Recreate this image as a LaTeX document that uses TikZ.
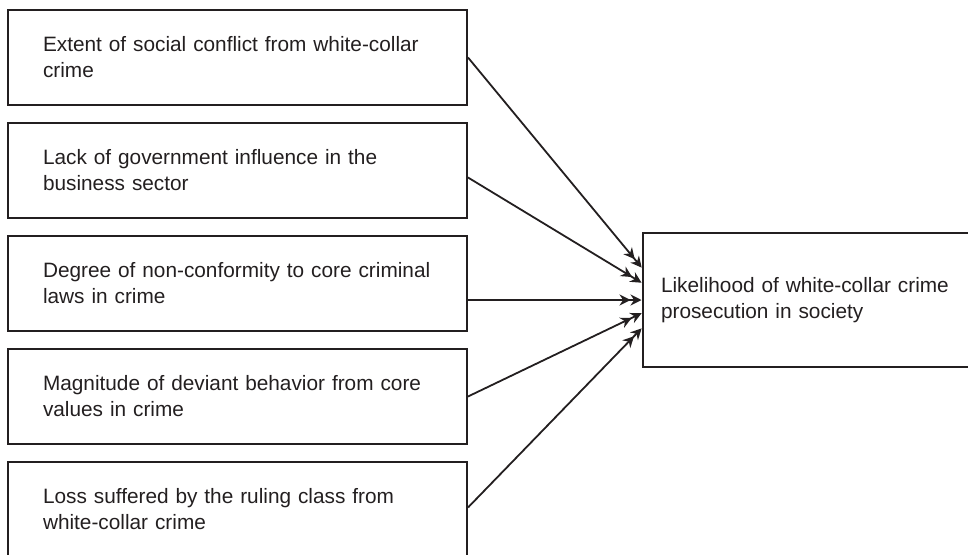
\documentclass[tikz,border=0pt]{standalone}
\usepackage{fontspec}
\setmainfont{Liberation Sans}
\usepackage{tikz}
\usetikzlibrary{arrows.meta,positioning}
\definecolor{inkgray}{HTML}{231F20}

\begin{document}
\begin{tikzpicture}[x=1pt, y=-1pt,
  box/.style={draw=inkgray, line width=2pt, rectangle, align=left,
    text width=389pt, inner xsep=35pt, minimum height=95pt,
    font=\fontsize{20.8}{26}\selectfont, text=inkgray},
  outcome/.style={box, text width=321pt, inner xsep=18pt, minimum height=134pt},
  arr/.style={-{Stealth[length=11pt,width=11pt] Stealth[length=11pt,width=11pt]},
    line width=1.8pt, inkgray, shorten >=0.5pt}
]
  \useasboundingbox (0,0) rectangle (968,554);
  \clip (0,0) rectangle (968,554);

  \node[box] (conflict) at (237.5, 57.5)
    {Extent of social conflict from white-collar\\crime};
  \node[box, below=16pt of conflict] (govt)
    {Lack of government influence in the\\business sector};
  \node[box, below=16pt of govt] (nonconf)
    {Degree of non-conformity to core criminal\\laws in crime};
  \node[box, below=16pt of nonconf] (deviant)
    {Magnitude of deviant behavior from core\\values in crime};
  \node[box, below=16pt of deviant] (loss)
    {Loss suffered by the ruling class from\\white-collar crime};

  \node[outcome] (prosec) at (821.5, 300)
    {Likelihood of white-collar crime\\prosecution in society};

  % entry points on the outcome box
  \coordinate (in1) at ([yshift=32pt]prosec.west);
  \coordinate (in2) at ([yshift=17pt]prosec.west);
  \coordinate (in3) at (prosec.west);
  \coordinate (in4) at ([yshift=-13pt]prosec.west);
  \coordinate (in5) at ([yshift=-28pt]prosec.west);

  \draw[arr] (conflict.east) -- (in1);
  \draw[arr] ([yshift=-7pt]govt.east) -- (in2);
  \draw[arr] (nonconf.east |- in3) -- (in3);
  \draw[arr] (deviant.east) -- (in4);
  \draw[arr] ([yshift=2pt]loss.east) -- (in5);
\end{tikzpicture}
\end{document}
